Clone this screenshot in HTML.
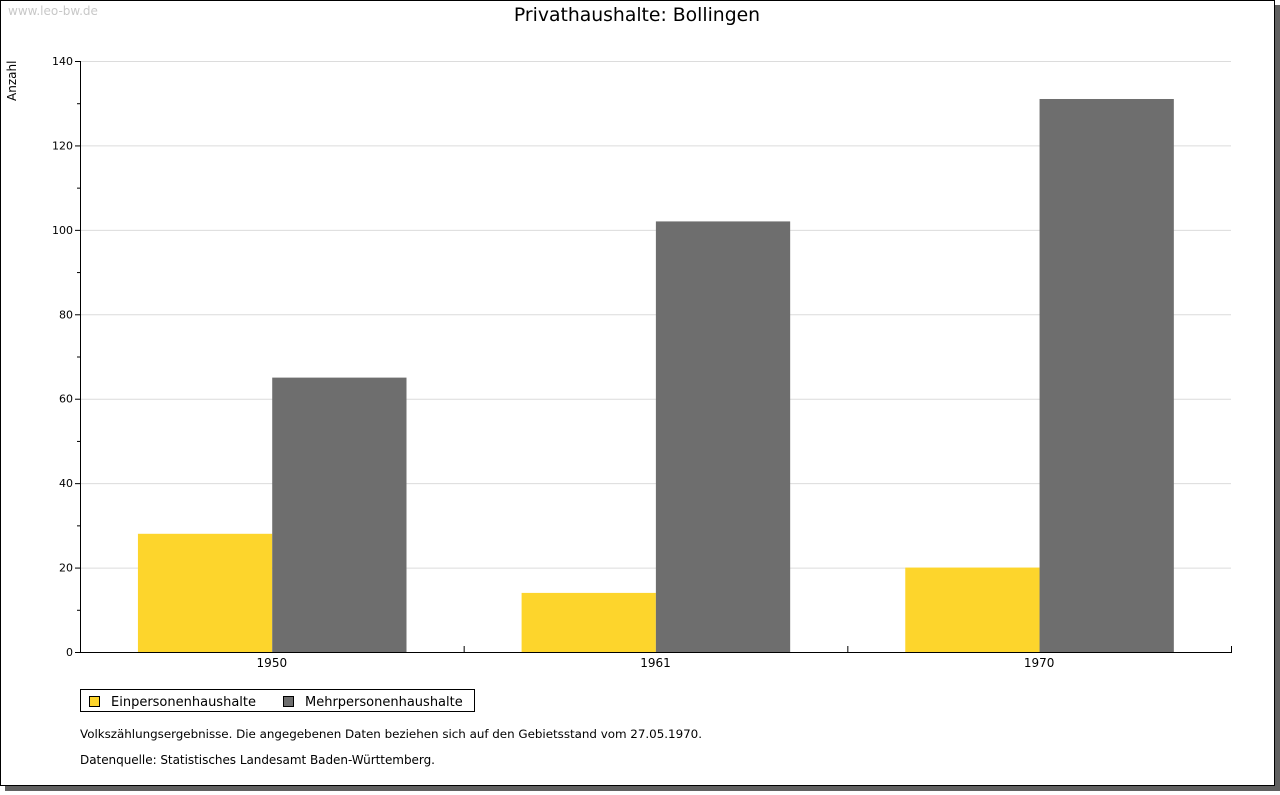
<!DOCTYPE html>
<html><head><meta charset="utf-8"><style>
body{margin:0;width:1280px;height:791px;background:#fff;overflow:hidden;font-family:"DejaVu Sans","Liberation Sans",sans-serif}
svg text{font-family:"DejaVu Sans","Liberation Sans",sans-serif}
</style></head><body>
<svg id="c" width="1280" height="791">
<rect x="5" y="5" width="1275" height="786" fill="#606060"/>
<rect x="0.5" y="0.5" width="1274" height="785" fill="#fff" stroke="#000"/>
<text x="8" y="15" font-size="12" fill="#c8c8c8">www.leo-bw.de</text>
<text x="637" y="21" font-size="18.8" text-anchor="middle">Privathaushalte: Bollingen</text>
<text transform="translate(16,101) rotate(-90)" font-size="12">Anzahl</text>
<g id="grid"></g><g id="bars"></g><g id="axes"></g>
<rect x="80.5" y="689.5" width="394" height="22" fill="#fff" stroke="#000"/>
<rect x="89.5" y="696.5" width="10" height="10" fill="#fdd52c" stroke="#000"/>
<text x="111" y="706" font-size="13">Einpersonenhaushalte</text>
<rect x="283.5" y="696.5" width="10" height="10" fill="#6e6e6e" stroke="#000"/>
<text x="305" y="706" font-size="13">Mehrpersonenhaushalte</text>
<text x="80" y="738" font-size="11.9" textLength="622">Volkszählungsergebnisse. Die angegebenen Daten beziehen sich auf den Gebietsstand vom 27.05.1970.</text>
<text x="80" y="764" font-size="12" textLength="355">Datenquelle: Statistisches Landesamt Baden-Württemberg.</text>
</svg>
<script>
const categories=["1950","1961","1970"];
const einpersonen=[28,14,20];
const mehrpersonen=[65,102,131];
const yTicks=[0,20,40,60,80,100,120,140];
const NS="http://www.w3.org/2000/svg";
const X0=80,X1=1231,Y0=652,Y1=61,YMAX=140;
const y=v=>Y0-(v/YMAX)*(Y0-Y1);
const gw=(X1-X0)/categories.length;
function mk(p,tag,a){const e=document.createElementNS(NS,tag);for(const k in a)e.setAttribute(k,a[k]);document.getElementById(p).appendChild(e);return e;}
yTicks.forEach(t=>{
  if(t>0){const g=mk('grid','line',{x1:X0,x2:X1,y1:y(t)+.5,y2:y(t)+.5,stroke:'#dcdcdc'});
  
  }
  const l=mk('axes','text',{x:73,y:y(t)+4,'font-size':11,'text-anchor':'end'});l.textContent=t;
  
  
  mk('axes','line',{x1:75,x2:X0,y1:y(t)+.5,y2:y(t)+.5,stroke:'#000'});
  if(t<YMAX)mk('axes','line',{x1:77,x2:X0,y1:y(t+10)+.5,y2:y(t+10)+.5,stroke:'#000'});
});
const bw=gw*0.35,off=gw*0.151;
categories.forEach((c,i)=>{
  const gx=X0+i*gw;
  const a=mk('bars','rect',{x:gx+off,y:y(einpersonen[i]),width:bw,height:Y0-y(einpersonen[i]),fill:'#fdd52c'});
  
  
  const b=mk('bars','rect',{x:gx+off+bw,y:y(mehrpersonen[i]),width:bw,height:Y0-y(mehrpersonen[i]),fill:'#6e6e6e'});
  
  
  const t=mk('axes','text',{x:gx+gw/2,y:667,'font-size':12,'text-anchor':'middle'});t.textContent=c;
  
  
  mk('axes','line',{x1:gx+gw+.5,x2:gx+gw+.5,y1:Y0-6,y2:Y0,stroke:'#000'});
});
mk('axes','line',{x1:X0+.5,x2:X0+.5,y1:Y1,y2:Y0+1,stroke:'#000'});
mk('axes','line',{x1:X0,x2:X1+1,y1:Y0+.5,y2:Y0+.5,stroke:'#000'});
</script>
</body></html>
